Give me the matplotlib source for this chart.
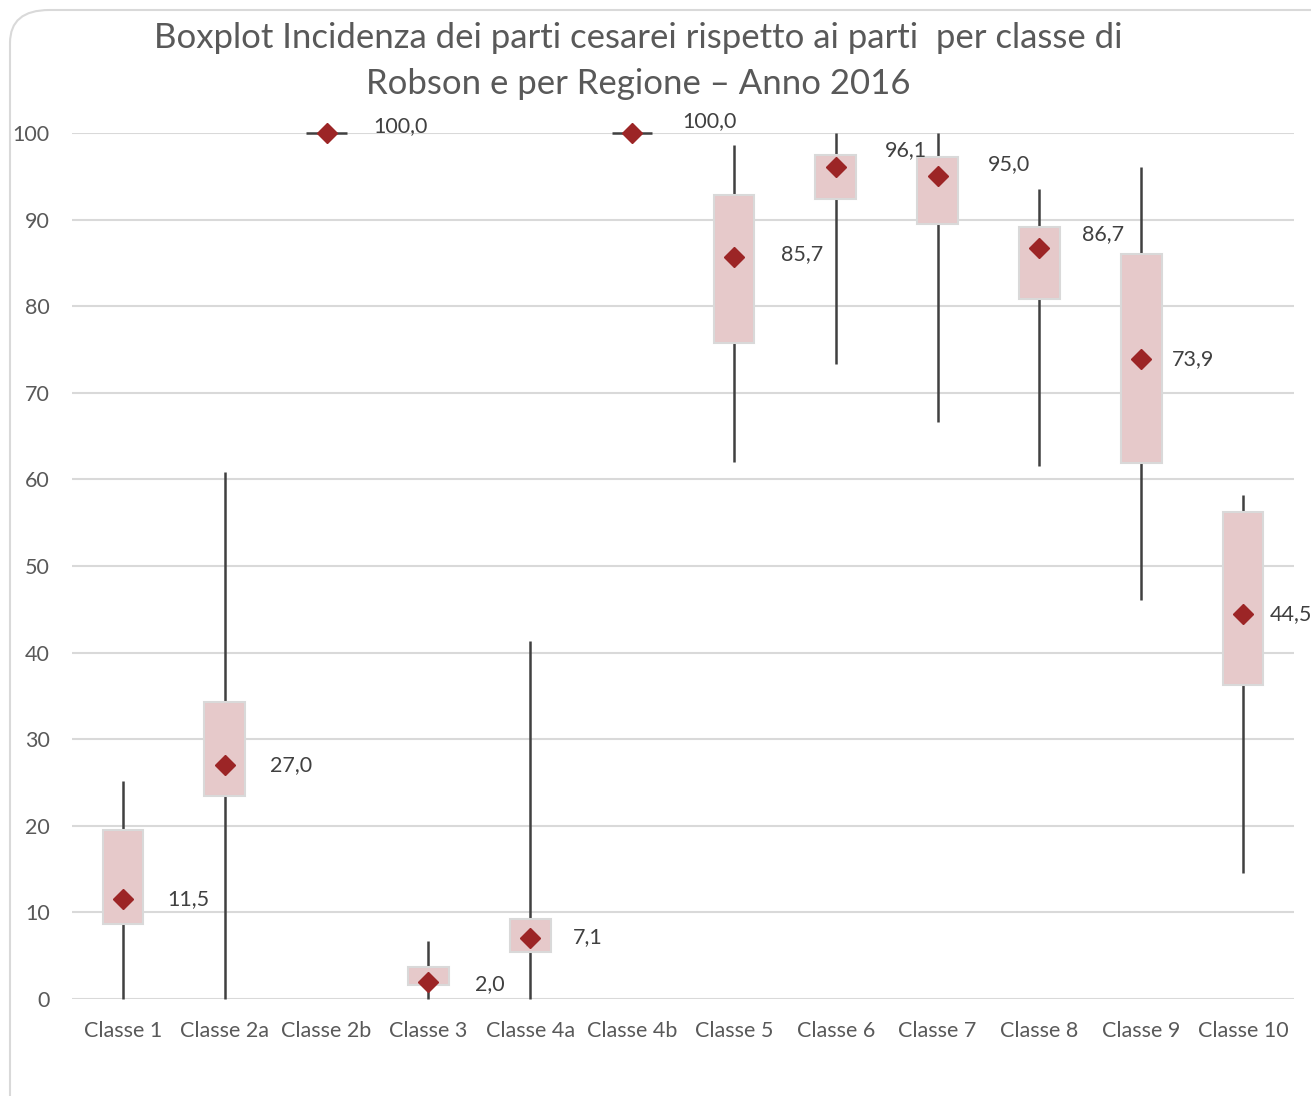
import numpy as np
import matplotlib.pyplot as plt
from matplotlib.patches import FancyBboxPatch

plt.rcParams['font.family'] = ['Lato', 'DejaVu Sans']

# dati
classi = ["Classe 1", "Classe 2a", "Classe 2b", "Classe 3", "Classe 4a", "Classe 4b",
          "Classe 5", "Classe 6", "Classe 7", "Classe 8", "Classe 9", "Classe 10"]
minimo = [0.0, 0.0, 100.0, 0.0, 0.0, 100.0, 62.0, 73.3, 66.6, 61.5, 46.1, 14.5]
q1 = [8.7, 23.4, 100.0, 1.6, 5.4, 100.0, 75.8, 92.4, 89.5, 80.8, 61.9, 36.3]
q3 = [19.5, 34.3, 100.0, 3.7, 9.2, 100.0, 92.8, 97.5, 97.2, 89.1, 86.0, 56.2]
massimo = [25.2, 60.9, 100.0, 6.7, 41.3, 100.0, 98.6, 100.0, 100.0, 93.5, 96.1, 58.2]
valore = [11.5, 27.0, 100.0, 2.0, 7.1, 100.0, 85.7, 96.1, 95.0, 86.7, 73.9, 44.5]

# spostamento etichette (pixel) rispetto al marker
off_x = [44, 45, 47, 47, 43, 50, 47, 49, 50, 43, 31, 27]
off_y = [0, 0, 7, -2, 0, 12, 3, 17, 12, 14, 0, 0]

fig = plt.figure(figsize=(13.11, 10.96), dpi=100)
fig.patches.append(FancyBboxPatch((10 / 1311, -0.05), 1.1, 1.0 - 10 / 1096 + 0.05,
                                  boxstyle="round,pad=0,rounding_size=0.03",
                                  transform=fig.transFigure, facecolor="white",
                                  edgecolor="#d9d9d9", linewidth=1.5, zorder=-10))

ax = fig.add_axes([72 / 1311, 97 / 1096, 1222 / 1311, 866 / 1096])
ax.set_facecolor("none")
x = np.arange(len(classi))

ax.vlines(x, minimo, massimo, color="#404040", linewidth=1.8, zorder=2, clip_on=False)
altezza = np.array(q3) - np.array(q1)
ax.bar(x, altezza, bottom=q1, width=0.4, color="#e6c9ca", edgecolor="#d9d9d9",
       linewidth=1.5, zorder=3)
for i in range(len(classi)):
    if altezza[i] == 0:
        ax.hlines(q1[i], i - 0.2, i + 0.2, color="#404040", linewidth=1.8, zorder=3, clip_on=False)
ax.plot(x, valore, linestyle="none", marker="D", markersize=10, color="#9c2526",
        zorder=4, clip_on=False)

for i, v in enumerate(valore):
    ax.annotate(f"{v:.1f}".replace(".", ","), (i, v), xytext=(off_x[i] * 0.72, off_y[i] * 0.72),
                textcoords="offset points", ha="left", va="center", fontsize=15.5,
                color="#404040", annotation_clip=False)

ax.set_xlim(-0.5, len(classi) - 0.5)
ax.set_ylim(0, 100)
ax.set_yticks(np.arange(0, 101, 10))
ax.set_xticks(x)
ax.set_xticklabels(classi)
ax.tick_params(axis="both", length=0, labelsize=15.5, labelcolor="#595959")
ax.tick_params(axis="x", pad=16)
ax.tick_params(axis="y", pad=16)
ax.grid(axis="y", color="#d9d9d9", linewidth=1.5)
ax.set_axisbelow(True)
for s in ax.spines.values():
    s.set_visible(False)

fig.text(638 / 1311, 1 - 61 / 1096,
         "Boxplot Incidenza dei parti cesarei rispetto ai parti  per classe di\nRobson e per Regione \u2013 Anno 2016",
         ha="center", va="center", fontsize=25, color="#595959", linespacing=1.55)

fig.savefig("out.png", dpi=100)
